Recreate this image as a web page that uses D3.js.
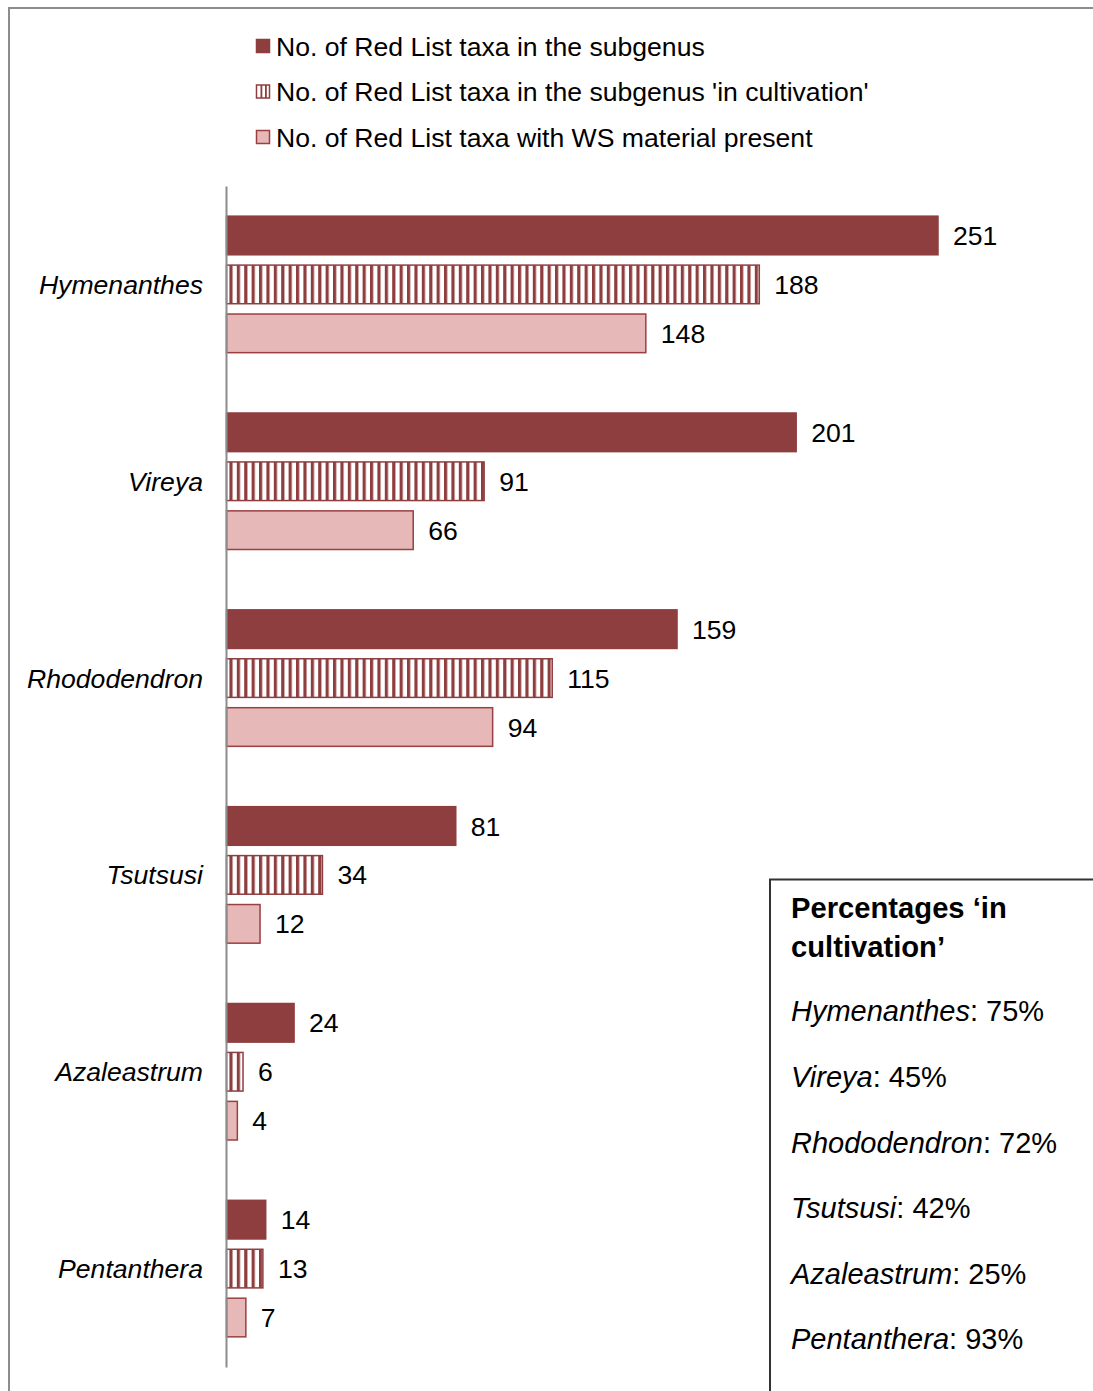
<!DOCTYPE html>
<html><head><meta charset="utf-8">
<script src="https://cdn.jsdelivr.net/npm/d3@7"></script>
<style>body{margin:0;background:#fff}svg{display:block;font-family:"Liberation Sans",Arial,sans-serif}</style>
</head><body>
<svg id="c" width="1093" height="1391"></svg>
<script>
const categories = ["Hymenanthes","Vireya","Rhododendron","Tsutsusi","Azaleastrum","Pentanthera"];
const seriesNames = ["No. of Red List taxa in the subgenus","No. of Red List taxa in the subgenus 'in cultivation'","No. of Red List taxa with WS material present"];
const redListTaxa = [251,201,159,81,24,14];
const inCultivation = [188,91,115,34,6,13];
const wsMaterial = [148,66,94,12,4,7];
const percentages = [75,45,72,42,25,93];

const svg = d3.select("#c");
const dark = "#8f3e3f", pinkFill = "#e6b8b7", edge = "#9a4042";
const fs = 26.6;

// outer frame
svg.append("path").attr("d","M9,1391 V8 H1093").attr("fill","none").attr("stroke","#8c8c8c").attr("stroke-width",2);

const defs = svg.append("defs");
const pat = defs.append("pattern").attr("id","stripe").attr("patternUnits","userSpaceOnUse")
  .attr("width",7.4).attr("height",10);
pat.append("rect").attr("width",7.4).attr("height",10).attr("fill","#fff");
pat.append("rect").attr("x",0).attr("width",3.2).attr("height",10).attr("fill",dark);

const x = d3.scaleLinear().domain([0,251]).range([226,938]);
const y = d3.scaleBand().domain(categories).range([186,1367]).padding(0);
const sub = d3.scaleBand().domain([0,1,2]).range([y.bandwidth()/2-69, y.bandwidth()/2+69]).paddingInner(0.18).paddingOuter(0);

const series = [
  {vals:redListTaxa, fill:dark, stroke:dark},
  {vals:inCultivation, fill:"url(#stripe)", stroke:dark},
  {vals:wsMaterial, fill:pinkFill, stroke:edge}
];

const g = svg.append("g");
categories.forEach((c,i)=>{
  series.forEach((s,k)=>{
    const v = s.vals[i];
    const y0 = y(c)+sub(k);
    g.append("rect").attr("x",x(0)+0.5).attr("y",y0+0.75).attr("width",x(v)-x(0)-0.5).attr("height",sub.bandwidth()-1.5)
      .attr("fill",s.fill).attr("stroke",s.stroke).attr("stroke-width",1.5);
    g.append("text").attr("x",x(v)+15).attr("y",y0+sub.bandwidth()/2).attr("dy","0.36em")
      .attr("font-size",fs).attr("fill","#000").text(v);
  });
});

// axis
const yAxis = d3.axisLeft(y).tickSize(0).tickPadding(23);
const ag = svg.append("g").attr("transform","translate(226,0)").call(yAxis);
ag.select(".domain").attr("stroke","#8c8c8c").attr("stroke-width",2);
ag.selectAll("text").attr("font-size",fs).attr("font-style","italic").attr("fill","#000")
  .attr("font-family","Liberation Sans, Arial, sans-serif").attr("dy","0.36em");

// legend
const leg = svg.append("g");
const legFills = [dark,"url(#stripe)",pinkFill];
const legStrokes = [dark,dark,edge];
seriesNames.forEach((n,k)=>{
  const ly = 46 + k*45.5;
  if(k===1){
    leg.append("rect").attr("x",256.5).attr("y",ly-6.5).attr("width",13).attr("height",13).attr("fill","#fff").attr("stroke",dark).attr("stroke-width",1.5);
    [260.5,265].forEach(xx=>leg.append("rect").attr("x",xx).attr("y",ly-6.5).attr("width",1.8).attr("height",13).attr("fill",dark));
  } else {
    leg.append("rect").attr("x",256.5).attr("y",ly-6.5).attr("width",13).attr("height",13).attr("fill",legFills[k]).attr("stroke",legStrokes[k]).attr("stroke-width",1.5);
  }
  leg.append("text").attr("x",276).attr("y",ly).attr("dy","0.36em").attr("font-size",fs).attr("fill","#000").text(n);
});

// percentages box
svg.append("path").attr("d","M770,1391 V879.5 H1093").attr("fill","none").attr("stroke","#333").attr("stroke-width",2);
const bx = svg.append("g");
bx.append("text").attr("x",791).attr("y",907).attr("dy","0.36em").attr("font-size",29.2).attr("font-weight","bold").text("Percentages \u2018in");
bx.append("text").attr("x",791).attr("y",946).attr("dy","0.36em").attr("font-size",29.2).attr("font-weight","bold").text("cultivation\u2019");
categories.forEach((c,i)=>{
  const t = bx.append("text").attr("x",791).attr("y",1011+i*65.6).attr("dy","0.36em").attr("font-size",29);
  t.append("tspan").attr("font-style","italic").text(c);
  t.append("tspan").text(": "+percentages[i]+"%");
});
</script>
</body></html>
